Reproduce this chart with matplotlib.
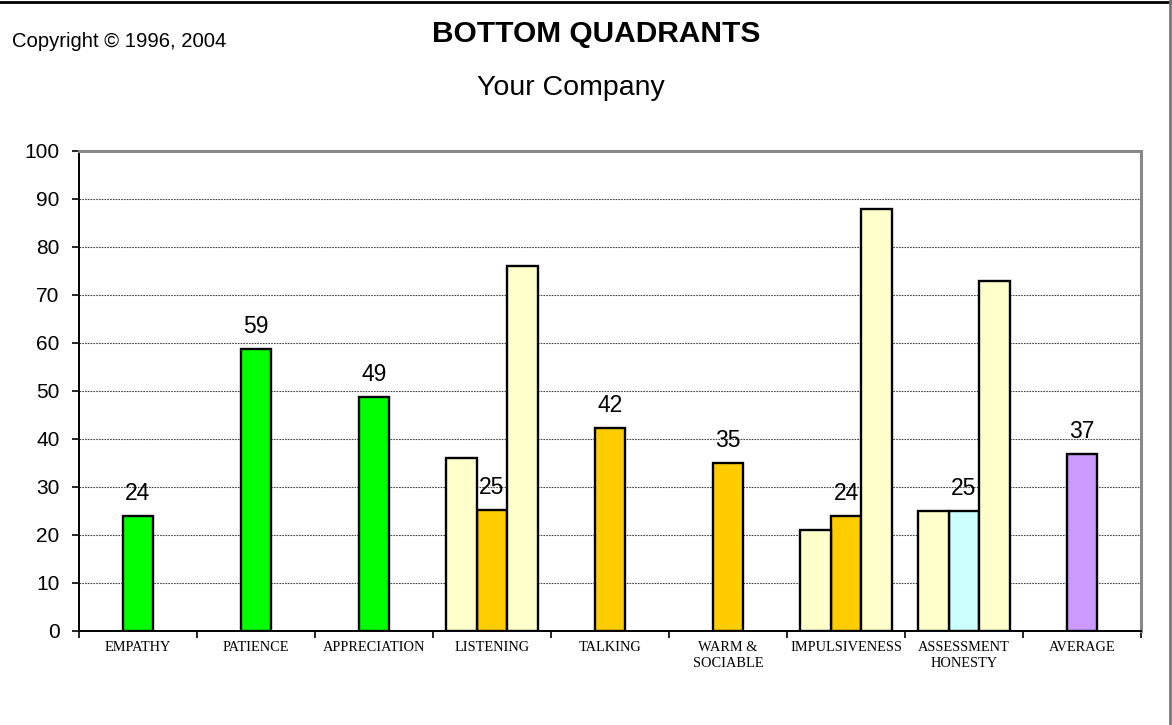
import matplotlib
matplotlib.use("Agg")
import matplotlib.pyplot as plt
from matplotlib.lines import Line2D
import numpy as np

categories = ["EMPATHY", "PATIENCE", "APPRECIATION", "LISTENING", "TALKING",
              "WARM &\nSOCIABLE", "IMPULSIVENESS", "ASSESSMENT\nHONESTY", "AVERAGE"]
main_values = [24, 58.7, 48.8, 25.2, 42.2, 35, 24, 25, 36.8]
main_colors = ["#00FF00", "#00FF00", "#00FF00", "#FFCC00", "#FFCC00",
               "#FFCC00", "#FFCC00", "#CCFFFF", "#CC99FF"]
left_values = [None, None, None, 36, None, None, 21, 25, None]
right_values = [None, None, None, 76, None, None, 88, 73, None]
side_color = "#FFFFCC"
yticks = [0, 10, 20, 30, 40, 50, 60, 70, 80, 90, 100]

W, H = 1172, 725
fig = plt.figure(figsize=(W / 100, H / 100), dpi=100)
ax = fig.add_axes([79 / W, 1 - 631 / H, (1141 - 79) / W, (631 - 151) / H])

bw = 0.26
x = np.arange(len(categories))
ax.bar(x, main_values, width=bw, color=main_colors, edgecolor="black", linewidth=1.7, zorder=3)
for i, v in enumerate(left_values):
    if v is not None:
        ax.bar(i - bw, v, width=bw, color=side_color, edgecolor="black", linewidth=1.7, zorder=3)
for i, v in enumerate(right_values):
    if v is not None:
        ax.bar(i + bw, v, width=bw, color=side_color, edgecolor="black", linewidth=1.7, zorder=3)

for i, v in enumerate(main_values):
    ax.annotate(f"{round(v)}", (i, v), xytext=(0, 11.5), textcoords="offset points",
                ha="center", va="baseline", fontsize=16.5, family="Liberation Sans", zorder=4)

ax.set_xlim(-0.5, len(categories) - 0.5)
ax.set_ylim(0, 100)
ax.set_yticks(yticks)
ax.set_yticklabels([str(t) for t in yticks], fontsize=15, family="Liberation Sans")
ax.tick_params(axis="y", direction="out", length=5, width=1.2, pad=9)

ax.set_xticks(x)
ax.set_xticklabels(categories, fontsize=10.4, family="Liberation Serif", linespacing=1.3)
ax.tick_params(axis="x", which="major", length=0, pad=7.5)
ax.set_xticks(np.arange(len(categories) + 1) - 0.5, minor=True)
ax.tick_params(axis="x", which="minor", direction="out", length=5, width=1.2)

ax.yaxis.grid(True, linestyle=(0, (1.5, 1)), color="#444444", linewidth=0.8, zorder=0)
ax.set_axisbelow(True)
for s in ["left", "bottom"]:
    ax.spines[s].set_color("black")
    ax.spines[s].set_linewidth(1.4)
for s in ["top", "right"]:
    ax.spines[s].set_color("#888888")
    ax.spines[s].set_linewidth(2.2)

fig.text(12 / W, 1 - 47 / H, "Copyright \u00a9 1996, 2004", fontsize=14.6,
         family="Liberation Sans", ha="left", va="baseline")
fig.text(596 / W, 1 - 42 / H, "BOTTOM QUADRANTS", fontsize=21.5, fontweight="bold",
         family="Liberation Sans", ha="center", va="baseline")
fig.text(571 / W, 1 - 95 / H, "Your Company", fontsize=20.5,
         family="Liberation Sans", ha="center", va="baseline")

fig.add_artist(Line2D([0, 1], [1 - 1.5 / H, 1 - 1.5 / H], transform=fig.transFigure,
                      color="black", linewidth=2))
fig.add_artist(Line2D([1 - 2.5 / W, 1 - 2.5 / W], [0, 1], transform=fig.transFigure,
                      color="#777777", linewidth=2))

fig.savefig("out.png", dpi=100)
